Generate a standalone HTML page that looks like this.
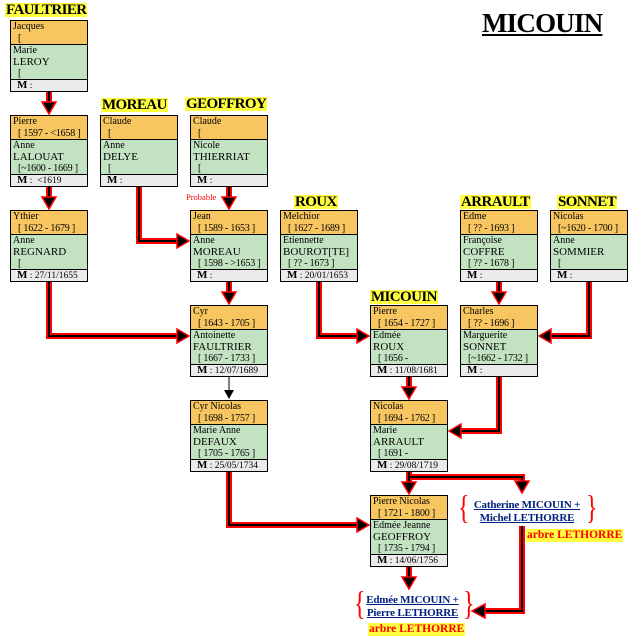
<!DOCTYPE html>
<html><head><meta charset="utf-8"><style>
body{margin:0;width:638px;height:640px;background:#fff;position:relative;overflow:hidden;font-family:"Liberation Serif",serif;}
.b{position:absolute;width:76px;border:1px solid #000;font-size:10px;line-height:11.5px;color:#000;}
.o{background:#f8c660;height:23px;border-bottom:1px solid #000;padding-left:2px;overflow:hidden;white-space:nowrap;}
.g{background:#c2e2c2;height:34px;border-bottom:1px solid #000;padding-left:2px;overflow:hidden;white-space:nowrap;}
.g .l2{font-size:11px;}
.m{background:#ebebeb;height:11px;padding-left:6px;font-size:9.5px;line-height:11px;white-space:nowrap;overflow:hidden;}
.m b{font-size:11px;}
.i{padding-left:5px;letter-spacing:-0.2px;}
.h{position:absolute;background:#ffff40;font-weight:bold;font-size:15px;line-height:14px;height:14px;padding:0 1px;letter-spacing:-0.6px;}
.t{position:absolute;left:482px;top:8px;font-weight:bold;font-size:27px;text-decoration:underline;letter-spacing:-0.8px;}
.lk{position:absolute;text-align:center;color:#002080;font-weight:bold;font-size:11px;line-height:13px;text-decoration:underline;white-space:nowrap;letter-spacing:-0.2px;}
.br{position:absolute;color:#f00;font-size:24px;line-height:24px;transform:scaleY(1.4);transform-origin:top left;}
.ar{position:absolute;background:#ffff40;color:#f00;font-weight:bold;font-size:11.5px;line-height:13px;padding:0 1px;white-space:nowrap;}
</style></head><body>
<svg width="638" height="640" style="position:absolute;left:0;top:0">
<g fill="none" stroke-linejoin="miter">
<g stroke="#f00" stroke-width="6">
<path d="M49 91V104"/><path d="M49 186V199"/>
<path d="M139 186V241H179"/><path d="M229 186V199"/>
<path d="M49 282V336H179"/><path d="M229 282V294"/>
<path d="M319 282V336H359"/>
<path d="M499 282V294"/><path d="M589 282V336H549"/>
<path d="M499 377V431H459"/><path d="M409 377V389"/>
<path d="M409 472V484"/><path d="M409 477H522V483"/>
<path d="M229 472V525H359"/><path d="M409 567V579"/>
<path d="M522 526V611H483"/>
</g>
<g stroke="#000" stroke-width="2">
<path d="M49 91V104"/><path d="M49 186V199"/>
<path d="M139 186V241H179"/><path d="M229 186V199"/>
<path d="M49 282V336H179"/><path d="M229 282V294"/>
<path d="M319 282V336H359"/>
<path d="M499 282V294"/><path d="M589 282V336H549"/>
<path d="M499 377V431H459"/><path d="M409 377V389"/>
<path d="M409 472V484"/><path d="M409 477H522V483"/>
<path d="M229 472V525H359"/><path d="M409 567V579"/>
<path d="M522 526V611H483"/>
<path d="M229 377V392" stroke-width="1"/>
</g>
</g>
<g fill="#000" stroke="#f00" stroke-width="1.5">
<polygon points="42,102 56,102 49,114"/>
<polygon points="42,197 56,197 49,209"/>
<polygon points="222,197 236,197 229,209"/>
<polygon points="222,292 236,292 229,304"/>
<polygon points="492,292 506,292 499,304"/>
<polygon points="402,387 416,387 409,399"/>
<polygon points="402,482 416,482 409,494"/>
<polygon points="515,481 529,481 522,493"/>
<polygon points="402,577 416,577 409,589"/>
<polygon points="177,234 177,248 189,241"/>
<polygon points="177,329 177,343 189,336"/>
<polygon points="357,329 357,343 369,336"/>
<polygon points="357,518 357,532 369,525"/>
<polygon points="551,329 551,343 539,336"/>
<polygon points="461,424 461,438 449,431"/>
<polygon points="485,604 485,618 472,611"/>
</g>
<polygon points="224,390 234,390 229,399" fill="#000"/>
</svg>

<div class="t">MICOUIN</div>
<div class="h" style="left:5px;top:3px">FAULTRIER</div>
<div class="h" style="left:101px;top:98px">MOREAU</div>
<div class="h" style="left:185px;top:97px">GEOFFROY</div>
<div class="h" style="left:294px;top:195px">ROUX</div>
<div class="h" style="left:370px;top:290px">MICOUIN</div>
<div class="h" style="left:460px;top:195px">ARRAULT</div>
<div class="h" style="left:557px;top:195px">SONNET</div>
<div style="position:absolute;left:186px;top:192px;color:#f00;font-size:8.5px">Probable</div>

<div class="b" style="left:10px;top:20px"><div class="o">Jacques<br><span class="i">[</span></div><div class="g">Marie<br><span class="l2">LEROY</span><br><span class="i">[</span></div><div class="m"><b>M</b> :</div></div>
<div class="b" style="left:10px;top:115px"><div class="o">Pierre<br><span class="i">[ 1597 - &lt;1658 ]</span></div><div class="g">Anne<br><span class="l2">LALOUAT</span><br><span class="i">[~1600 - 1669 ]</span></div><div class="m"><b>M</b> :&nbsp; &lt;1619</div></div>
<div class="b" style="left:100px;top:115px"><div class="o">Claude<br><span class="i">[</span></div><div class="g">Anne<br><span class="l2">DELYE</span><br><span class="i">[</span></div><div class="m"><b>M</b> :</div></div>
<div class="b" style="left:190px;top:115px"><div class="o">Claude<br><span class="i">[</span></div><div class="g">Nicole<br><span class="l2">THIERRIAT</span><br><span class="i">[</span></div><div class="m"><b>M</b> :</div></div>

<div class="b" style="left:10px;top:210px"><div class="o">Ythier<br><span class="i">[ 1622 - 1679 ]</span></div><div class="g">Anne<br><span class="l2">REGNARD</span><br><span class="i">[</span></div><div class="m"><b>M</b> : 27/11/1655</div></div>
<div class="b" style="left:190px;top:210px"><div class="o">Jean<br><span class="i">[ 1589 - 1653 ]</span></div><div class="g">Anne<br><span class="l2">MOREAU</span><br><span class="i">[ 1598 - &gt;1653 ]</span></div><div class="m"><b>M</b> :</div></div>
<div class="b" style="left:280px;top:210px"><div class="o">Melchior<br><span class="i">[ 1627 - 1689 ]</span></div><div class="g">Etiennette<br><span class="l2">BOUROT[TE]</span><br><span class="i">[ ?? - 1673 ]</span></div><div class="m"><b>M</b> : 20/01/1653</div></div>
<div class="b" style="left:460px;top:210px"><div class="o">Edme<br><span class="i">[ ?? - 1693 ]</span></div><div class="g">Françoise<br><span class="l2">COFFRE</span><br><span class="i">[ ?? - 1678 ]</span></div><div class="m"><b>M</b> :</div></div>
<div class="b" style="left:550px;top:210px"><div class="o">Nicolas<br><span class="i">[~1620 - 1700 ]</span></div><div class="g">Anne<br><span class="l2">SOMMIER</span><br><span class="i">[</span></div><div class="m"><b>M</b> :</div></div>

<div class="b" style="left:190px;top:305px"><div class="o">Cyr<br><span class="i">[ 1643 - 1705 ]</span></div><div class="g">Antoinette<br><span class="l2">FAULTRIER</span><br><span class="i">[ 1667 - 1733 ]</span></div><div class="m"><b>M</b> : 12/07/1689</div></div>
<div class="b" style="left:370px;top:305px"><div class="o">Pierre<br><span class="i">[ 1654 - 1727 ]</span></div><div class="g">Edmée<br><span class="l2">ROUX</span><br><span class="i">[ 1656 -</span></div><div class="m"><b>M</b> : 11/08/1681</div></div>
<div class="b" style="left:460px;top:305px"><div class="o">Charles<br><span class="i">[ ?? - 1696 ]</span></div><div class="g">Marguerite<br><span class="l2">SONNET</span><br><span class="i">[~1662 - 1732 ]</span></div><div class="m"><b>M</b> :</div></div>

<div class="b" style="left:190px;top:400px"><div class="o">Cyr Nicolas<br><span class="i">[ 1698 - 1757 ]</span></div><div class="g">Marie Anne<br><span class="l2">DEFAUX</span><br><span class="i">[ 1705 - 1765 ]</span></div><div class="m"><b>M</b> : 25/05/1734</div></div>
<div class="b" style="left:370px;top:400px"><div class="o">Nicolas<br><span class="i">[ 1694 - 1762 ]</span></div><div class="g">Marie<br><span class="l2">ARRAULT</span><br><span class="i">[ 1691 -</span></div><div class="m"><b>M</b> : 29/08/1719</div></div>
<div class="b" style="left:370px;top:495px"><div class="o">Pierre Nicolas<br><span class="i">[ 1721 - 1800 ]</span></div><div class="g">Edmée Jeanne<br><span class="l2">GEOFFROY</span><br><span class="i">[ 1735 - 1794 ]</span></div><div class="m"><b>M</b> : 14/06/1756</div></div>

<div class="br" style="left:458px;top:492px">{</div>
<div class="br" style="left:586px;top:492px">}</div>
<div class="lk" style="left:466px;top:499px;width:122px">Catherine MICOUIN +<br>Michel LETHORRE</div>
<div class="ar" style="left:526px;top:529px">arbre LETHORRE</div>

<div class="br" style="left:354px;top:588px">{</div>
<div class="br" style="left:463px;top:588px">}</div>
<div class="lk" style="left:361px;top:594px;width:103px">Edmée MICOUIN +<br>Pierre LETHORRE</div>
<div class="ar" style="left:368px;top:623px">arbre LETHORRE</div>
</body></html>
